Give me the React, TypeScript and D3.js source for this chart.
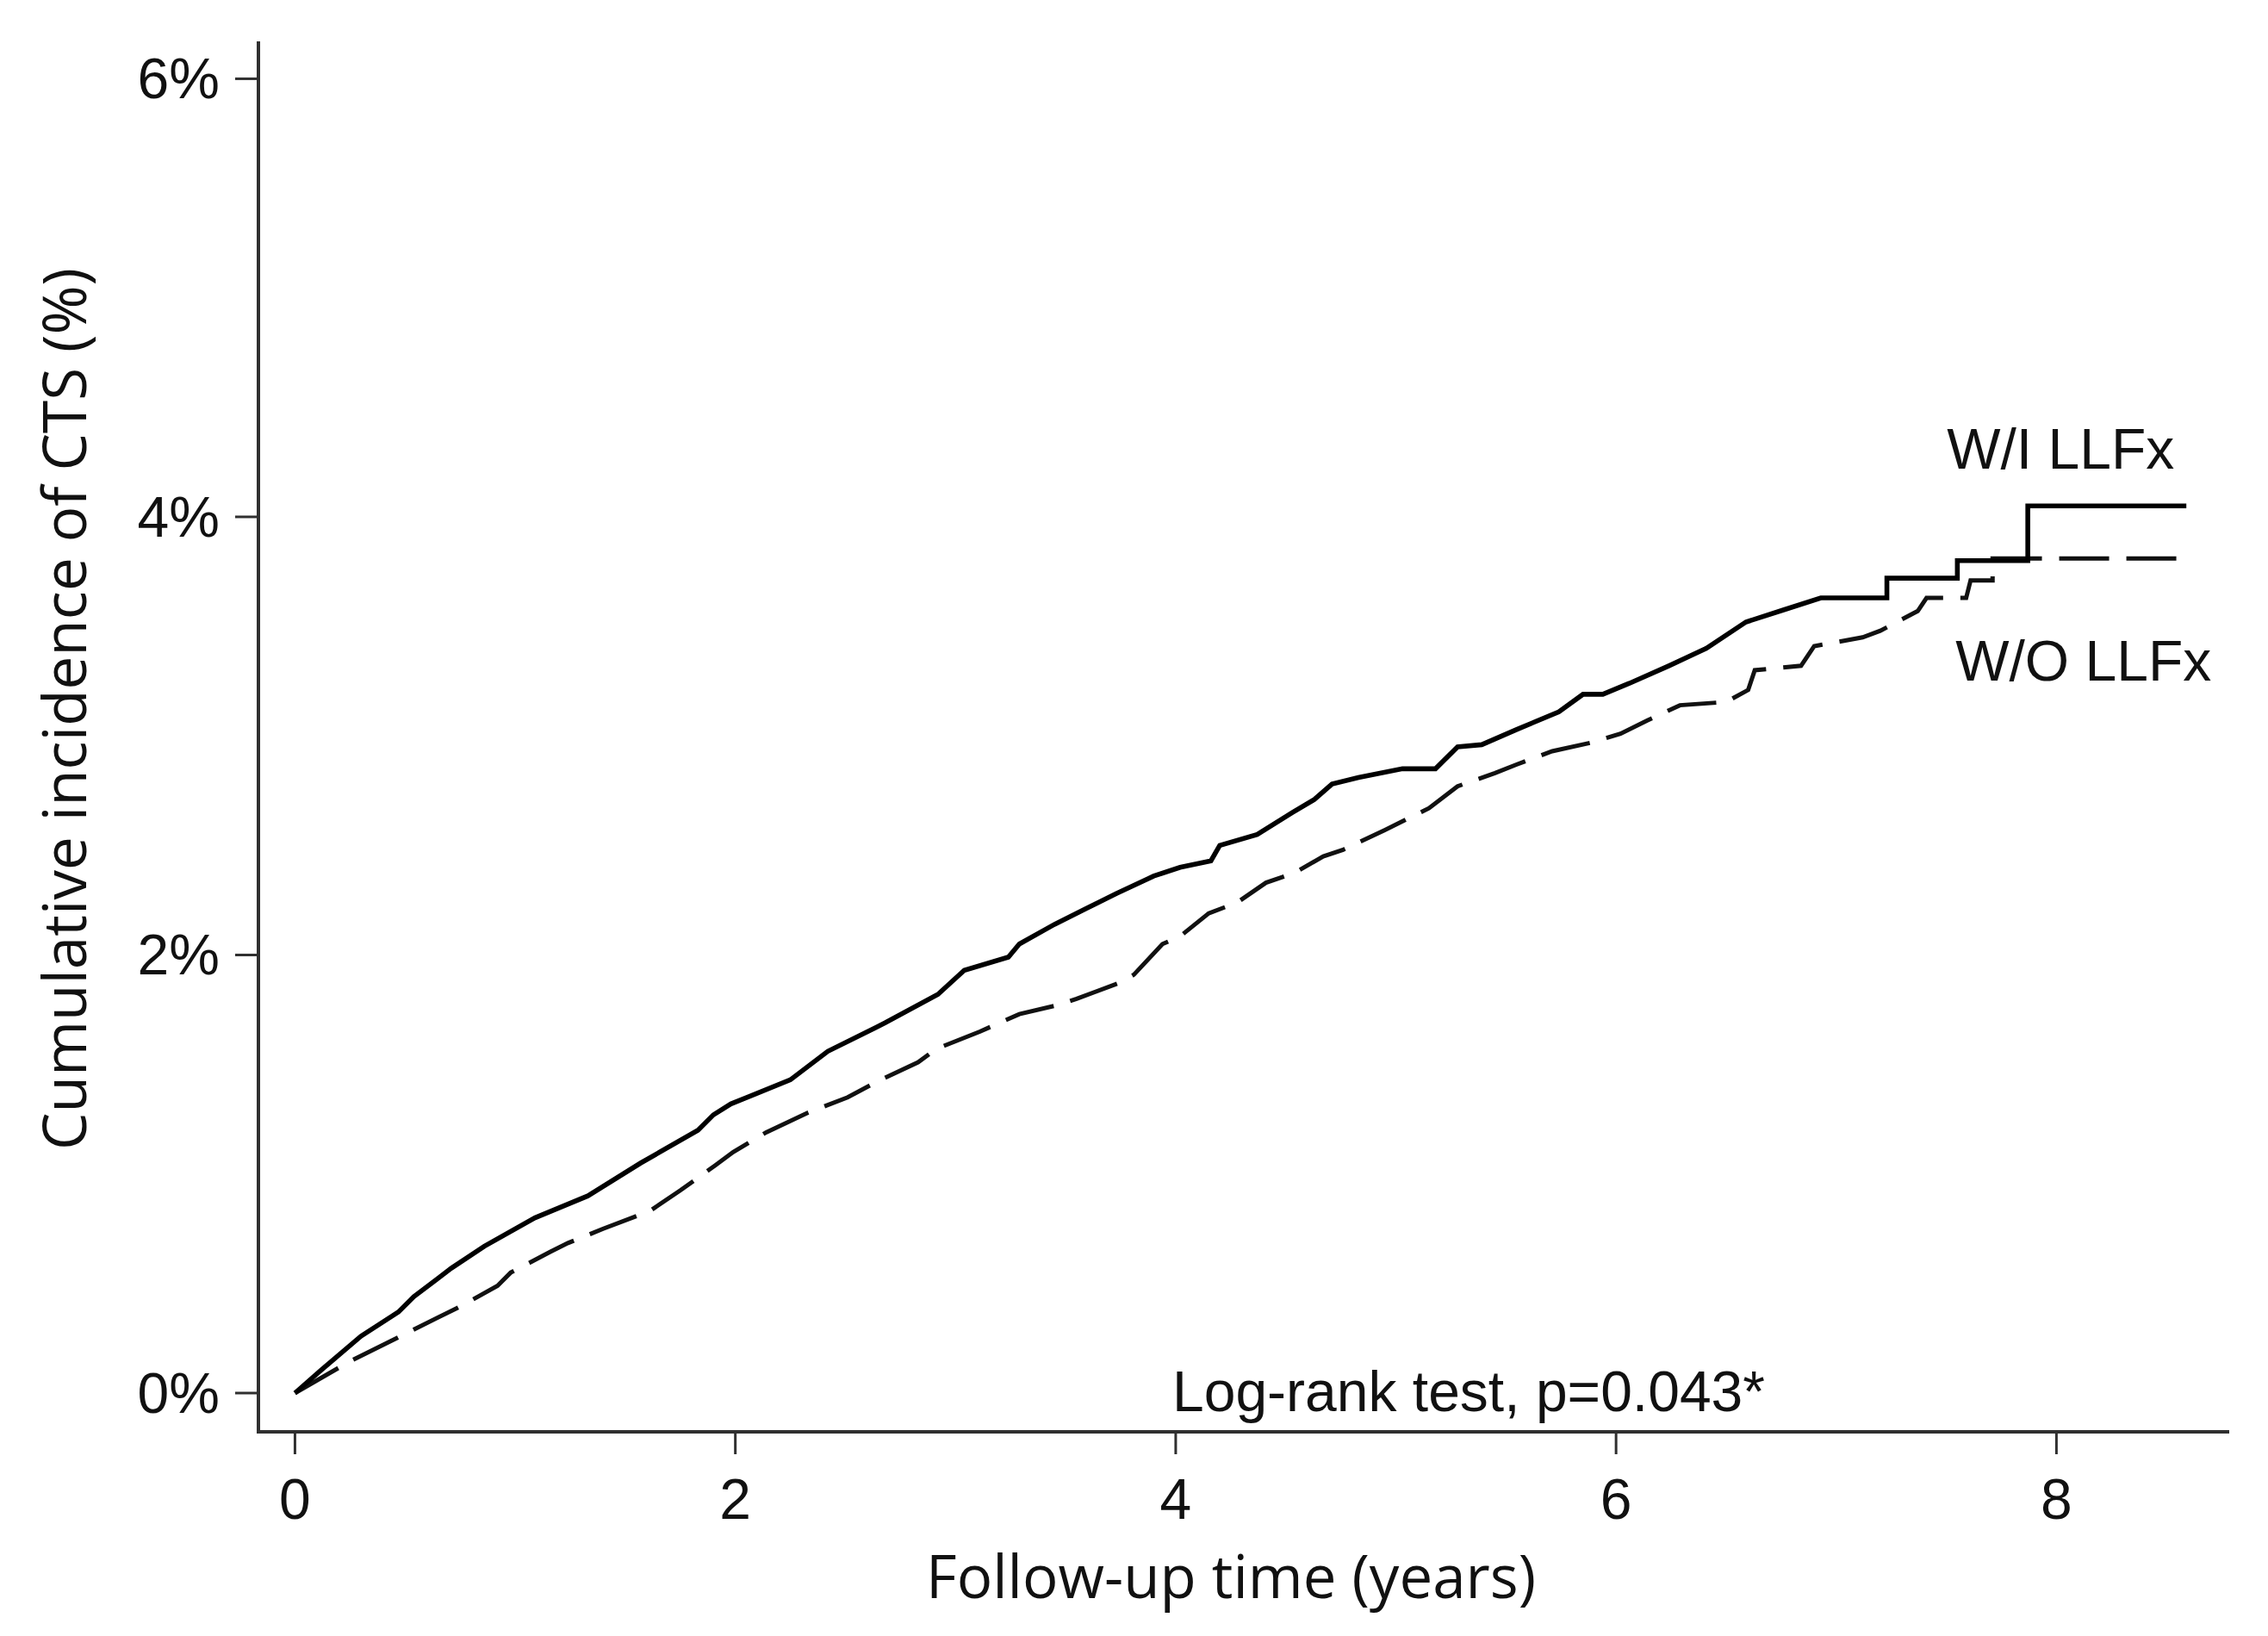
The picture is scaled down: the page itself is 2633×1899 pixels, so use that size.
import React from "react";
import * as d3 from "d3";

// ---- data ----
const xTicks = [0, 2, 4, 6, 8];
const yTicks = [0, 2, 4, 6];
const xTitle = "Follow-up time (years)";
const yTitle = "Cumulative incidence of CTS (%)";
const testLabel = "Log-rank test, p=0.043*";
const seriesNames = ["W/I LLFx", "W/O LLFx"];

// W/I LLFx (solid) : [years, cumulative incidence %]
const withLLFx: [number, number][] = [
  [0, 0], [0.12, 0.106], [0.3, 0.26], [0.47, 0.37], [0.54, 0.44], [0.71, 0.57],
  [0.86, 0.67], [1.09, 0.8], [1.33, 0.9], [1.57, 1.05], [1.83, 1.2], [1.9, 1.27],
  [1.98, 1.32], [2.25, 1.43], [2.42, 1.56], [2.68, 1.69], [2.92, 1.82], [3.04, 1.93],
  [3.24, 1.99], [3.29, 2.05], [3.45, 2.14], [3.59, 2.21], [3.73, 2.28], [3.9, 2.36],
  [4.02, 2.4], [4.16, 2.43], [4.2, 2.5], [4.37, 2.55], [4.53, 2.65], [4.63, 2.71],
  [4.71, 2.78], [4.83, 2.81], [5.03, 2.85], [5.18, 2.85], [5.28, 2.95], [5.39, 2.96],
  [5.55, 3.03], [5.74, 3.11], [5.85, 3.19], [5.94, 3.19], [6.06, 3.24], [6.24, 3.32],
  [6.41, 3.4], [6.59, 3.52], [6.76, 3.575], [6.93, 3.63], [7.23, 3.63], [7.23, 3.72],
  [7.55, 3.72], [7.55, 3.8], [7.87, 3.8], [7.87, 4.05], [8.59, 4.05],
];

// W/O LLFx (dashed)
const withoutLLFx: [number, number][] = [
  [0, 0], [0.25, 0.145], [0.5, 0.27], [0.76, 0.4], [0.92, 0.49], [0.98, 0.55],
  [1.16, 0.645], [1.24, 0.685], [1.4, 0.75], [1.61, 0.83], [1.75, 0.925], [1.91, 1.04],
  [1.99, 1.1], [2.14, 1.19], [2.33, 1.28], [2.51, 1.35], [2.66, 1.43], [2.83, 1.51],
  [2.91, 1.57], [3.11, 1.65], [3.29, 1.73], [3.46, 1.77], [3.55, 1.8], [3.75, 1.875],
  [3.81, 1.91], [3.94, 2.05], [4.02, 2.085], [4.15, 2.19], [4.28, 2.24], [4.41, 2.33],
  [4.54, 2.375], [4.67, 2.45], [4.76, 2.48], [4.95, 2.57], [5.15, 2.67], [5.28, 2.77],
  [5.45, 2.83], [5.55, 2.87], [5.71, 2.93], [5.89, 2.97], [6.02, 3.01], [6.14, 3.07],
  [6.29, 3.14], [6.5, 3.155], [6.6, 3.21], [6.63, 3.3], [6.84, 3.32], [6.9, 3.41],
  [7.12, 3.45], [7.2, 3.48], [7.37, 3.57], [7.41, 3.63], [7.59, 3.63], [7.61, 3.71],
  [7.71, 3.71], [7.71, 3.81], [8.59, 3.81],
];

// axis extents (data units)
const xDomain: [number, number] = [-0.166, 8.777];
const yDomain: [number, number] = [-0.177, 6.163];

const W = 2633;
const H = 1899;
const plot = { left: 300, right: 2586, top: 50, bottom: 1662 };

export default function App() {
  const x = d3.scaleLinear().domain(xDomain).range([plot.left, plot.right]);
  const y = d3.scaleLinear().domain(yDomain).range([plot.bottom, plot.top]);
  const line = d3
    .line<[number, number]>()
    .x((d) => x(d[0]))
    .y((d) => y(d[1]))
    .curve(d3.curveLinear);

  const axisColor = "#303030";
  const textColor = "#111";
  const arial = "'Liberation Sans', Arial, sans-serif";
  const titleFont = "'Open Sans', 'Noto Sans', sans-serif";
  const fs = 66;

  const lastSolid = withLLFx[withLLFx.length - 1];
  const lastDash = withoutLLFx[withoutLLFx.length - 1];

  return (
    <svg
      width={W}
      height={H}
      viewBox={`0 0 ${W} ${H}`}
      style={{ position: "absolute", left: 0, top: 0, background: "#fff" }}
    >
      <rect x={0} y={0} width={W} height={H} fill="#fff" />
      {/* axes */}
      <line x1={plot.left} x2={plot.left} y1={plot.top} y2={plot.bottom} stroke={axisColor} strokeWidth={4} strokeLinecap="square" />
      <line x1={plot.left} x2={plot.right} y1={plot.bottom} y2={plot.bottom} stroke={axisColor} strokeWidth={4} strokeLinecap="square" />

      {/* y ticks */}
      {yTicks.map((t) => (
        <g key={"y" + t}>
          <line x1={plot.left - 27} x2={plot.left} y1={y(t)} y2={y(t)} stroke={axisColor} strokeWidth={3} />
          <text x={255} y={y(t) + 23} textAnchor="end" fontFamily={arial} fontSize={fs} fill={textColor}>
            {t + "%"}
          </text>
        </g>
      ))}

      {/* x ticks */}
      {xTicks.map((t) => (
        <g key={"x" + t}>
          <line x1={x(t)} x2={x(t)} y1={plot.bottom} y2={plot.bottom + 26} stroke={axisColor} strokeWidth={3} />
          <text x={x(t)} y={1763} textAnchor="middle" fontFamily={arial} fontSize={fs} fill={textColor}>
            {t}
          </text>
        </g>
      ))}

      {/* curves */}
      <path d={line(withoutLLFx) || ""} fill="none" stroke="#111" strokeWidth={5} strokeDasharray="58,20" />
      <path d={line(withLLFx) || ""} fill="none" stroke="#000" strokeWidth={5.6} strokeLinejoin="miter" />

      {/* series labels */}
      <text x={x(lastSolid[0]) - 278} y={544} fontFamily={arial} fontSize={fs} fill={textColor}>
        {seriesNames[0]}
      </text>
      <text x={x(lastDash[0]) - 268} y={790} fontFamily={arial} fontSize={fs} fill={textColor}>
        {seriesNames[1]}
      </text>

      {/* test annotation */}
      <text x={1361} y={1638} fontFamily={arial} fontSize={fs} fill={textColor}>
        {testLabel}
      </text>

      {/* axis titles */}
      <text x={1075} y={1855} fontFamily={titleFont} fontSize={70} fill={textColor} textLength={708} lengthAdjust="spacingAndGlyphs">
        {xTitle}
      </text>
      <text
        transform={`translate(100, 823) rotate(-90)`}
        textAnchor="middle"
        fontFamily={titleFont}
        fontSize={70}
        fill={textColor}
        textLength={1024}
        lengthAdjust="spacingAndGlyphs"
      >
        {yTitle}
      </text>
    </svg>
  );
}
